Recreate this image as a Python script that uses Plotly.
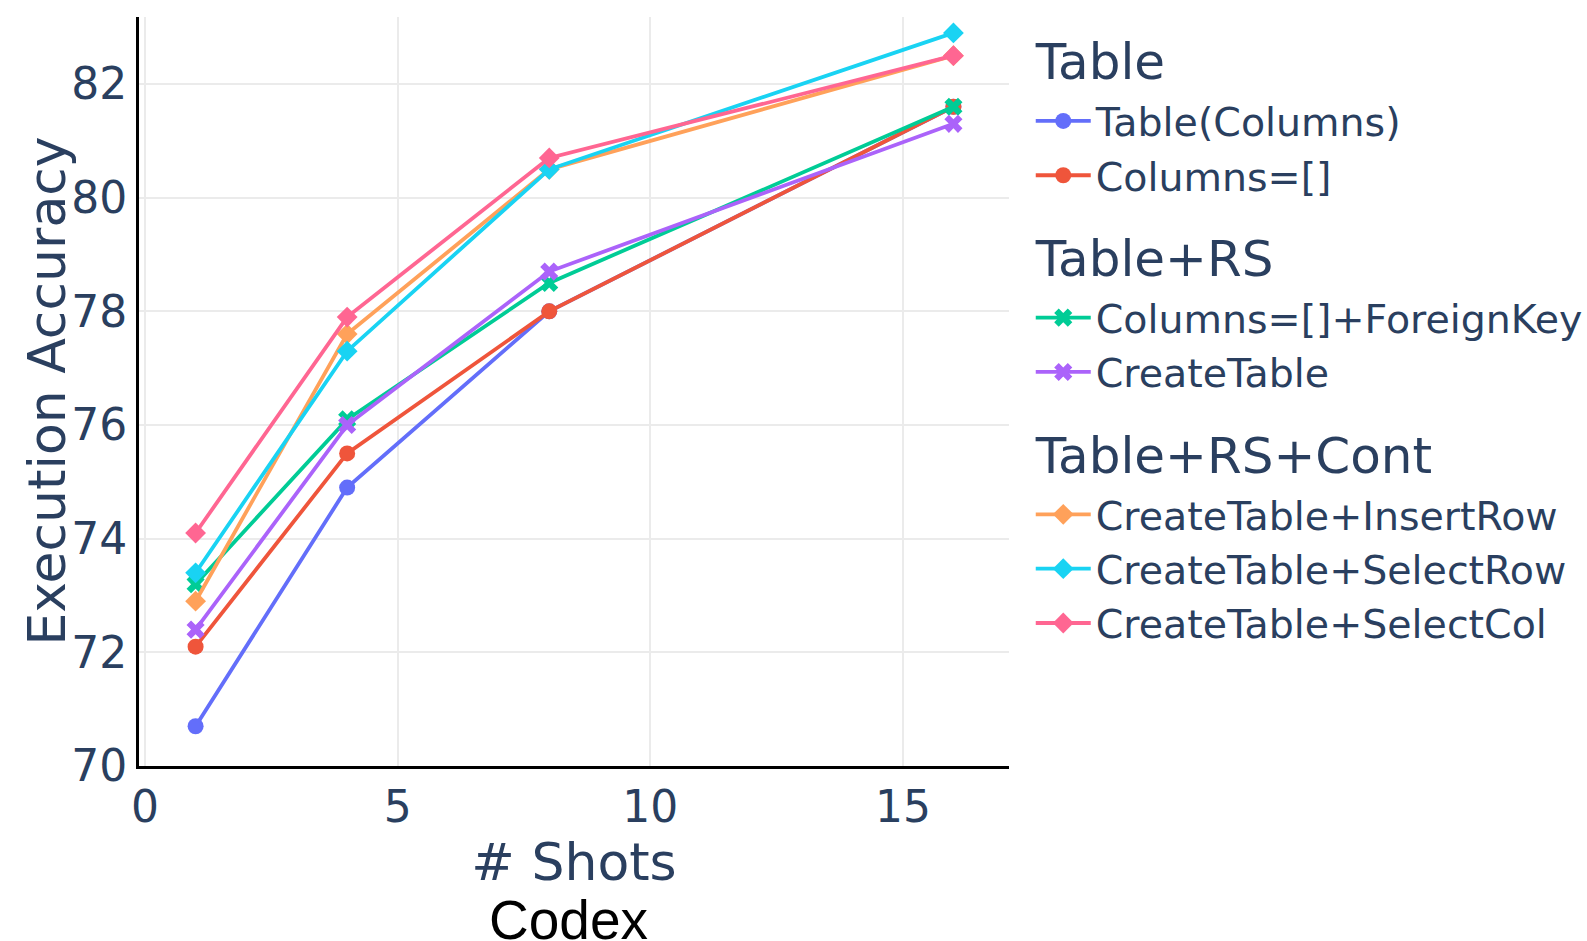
import plotly.graph_objects as go

shots = [1, 4, 8, 16]

series_names = [
    "Table(Columns)", "Columns=[]",
    "Columns=[]+ForeignKey", "CreateTable",
    "CreateTable+InsertRow", "CreateTable+SelectRow", "CreateTable+SelectCol",
]
groups = ["Table", "Table", "Table+RS", "Table+RS", "Table+RS+Cont", "Table+RS+Cont", "Table+RS+Cont"]

table_columns = [70.7, 74.9, 78.0, 81.6]
columns_eq = [72.1, 75.5, 78.0, 81.6]
columns_fk = [73.2, 76.1, 78.5, 81.6]
create_table = [72.4, 76.0, 78.7, 81.3]
ct_insert_row = [72.9, 77.6, 80.5, 82.5]
ct_select_row = [73.4, 77.3, 80.5, 82.9]
ct_select_col = [74.1, 77.9, 80.7, 82.5]

values = [table_columns, columns_eq, columns_fk, create_table,
          ct_insert_row, ct_select_row, ct_select_col]

colors = ["#636efa", "#EF553B", "#00cc96", "#ab63fa", "#FFA15A", "#19d3f3", "#FF6692"]
symbols = ["circle", "circle", "x", "x", "diamond", "diamond", "diamond"]

FONT = "DejaVu Sans, Verdana, sans-serif"
INK = "#2a3f5f"

fig = go.Figure()
for name, grp, ys, c, s in zip(series_names, groups, values, colors, symbols):
    fig.add_trace(go.Scatter(
        x=shots, y=ys, name=name, mode="lines+markers",
        legendgroup=grp,
        legendgrouptitle=dict(text=grp, font=dict(size=50, color=INK, family=FONT)),
        line=dict(color=c, width=3.8),
        marker=dict(color=c, symbol=s, size=16),
    ))

fig.update_layout(
    width=1587, height=941,
    template="plotly_white",
    paper_bgcolor="white", plot_bgcolor="white",
    margin=dict(l=139, r=578, t=17, b=175, autoexpand=False),
    font=dict(family=FONT, color=INK, size=39),
    legend=dict(
        x=1.025, y=0.995, xanchor="left", yanchor="top",
        font=dict(size=39.5, color=INK, family=FONT),
        tracegroupgap=20, itemwidth=55,
    ),
    showlegend=True,
)

fig.update_xaxes(
    range=[-0.12, 17.1], dtick=5, tick0=0,
    showline=True, linecolor="black", linewidth=3,
    showgrid=True, gridcolor="#ebebeb", gridwidth=1.5, zeroline=False,
    tickfont=dict(size=44, color=INK, family=FONT),
    title=dict(text="# Shots", font=dict(size=52, color=INK, family=FONT), standoff=6),
    ticks="",
)
fig.update_yaxes(
    range=[70, 83.18], dtick=2, tick0=70,
    showline=True, linecolor="black", linewidth=3,
    showgrid=True, gridcolor="#ebebeb", gridwidth=1.5, zeroline=False,
    tickfont=dict(size=44, color=INK, family=FONT),
    ticks="",
)

# y-axis title placed close to the tick labels
fig.add_annotation(
    text="Execution Accuracy", textangle=-90,
    x=0, y=0.5, xref="paper", yref="paper",
    xanchor="center", yanchor="middle", xshift=-93, showarrow=False,
    font=dict(size=52, color=INK, family=FONT),
)

fig.add_annotation(
    text="Codex", x=0.494, y=-0.205, xref="paper", yref="paper",
    xanchor="center", yanchor="middle", showarrow=False,
    font=dict(family="Liberation Sans, Arial, sans-serif", size=55, color="black"),
)

fig.write_html("out.html")
